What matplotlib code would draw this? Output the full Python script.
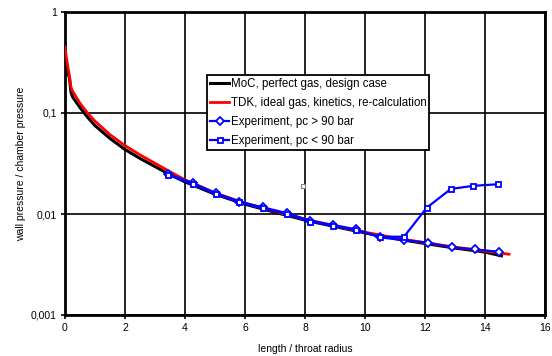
import matplotlib
matplotlib.use("Agg")
import matplotlib.pyplot as plt
from matplotlib.ticker import FixedLocator, FixedFormatter, NullLocator

plt.rcParams['font.family'] = ['Liberation Sans', 'DejaVu Sans']

# Theory curves
moc_x = [0, 0.05, 0.1, 0.15, 0.2, 0.25, 0.5, 0.75, 1, 1.5, 2, 2.5, 3, 3.5, 4, 5, 6, 7, 8, 9, 10, 11, 12, 13, 14, 14.55]
moc_y = [0.37, 0.30, 0.25, 0.22, 0.16, 0.145, 0.113, 0.091, 0.075, 0.056, 0.0435, 0.0355, 0.0295, 0.0245, 0.0208,
         0.0157, 0.0125, 0.0104, 0.0087, 0.0075, 0.0065, 0.0057, 0.0051, 0.0046, 0.0042, 0.00385]
tdk_x = [0, 0.05, 0.1, 0.15, 0.2, 0.25, 0.5, 0.75, 1, 1.5, 2, 2.5, 3, 3.5, 4, 5, 6, 7, 8, 9, 10, 11, 12, 13, 14, 14.8]
tdk_y = [0.45, 0.35, 0.28, 0.23, 0.18, 0.165, 0.125, 0.100, 0.083, 0.061, 0.0475, 0.0385, 0.0318, 0.0262, 0.0218,
         0.0162, 0.0128, 0.0106, 0.0089, 0.0076, 0.0066, 0.0058, 0.0052, 0.0047, 0.0043, 0.0040]

# Experiments
exp_hi_x = [3.43, 4.26, 5.02, 5.81, 6.59, 7.39, 8.17, 8.94, 9.70, 10.5, 11.3, 12.11, 12.89, 13.67, 14.48]
exp_hi_y = [0.0250, 0.0202, 0.0161, 0.01325, 0.01166, 0.0102, 0.00859, 0.00778, 0.00705, 0.00587, 0.00552,
            0.00519, 0.00467, 0.00446, 0.00422]
exp_lo_x = [3.43, 4.26, 5.02, 5.81, 6.59, 7.39, 8.17, 8.94, 9.70, 10.5, 11.3, 12.06, 12.86, 13.61, 14.42]
exp_lo_y = [0.0245, 0.0198, 0.0158, 0.0130, 0.0114, 0.0100, 0.0084, 0.0076, 0.0069, 0.00595, 0.00596,
            0.01155, 0.0177, 0.0190, 0.0197]
stray_x = [7.93]
stray_y = [0.019]

xticks = [0, 2, 4, 6, 8, 10, 12, 14, 16]
yticks = [0.001, 0.01, 0.1, 1]
ytick_labels = ["0,001", "0,01", "0,1", "1"]

fig = plt.figure(figsize=(5.52, 3.56), dpi=100)
ax = fig.add_axes([65/552, 1 - 315/356, (545-65)/552, (315-12)/356])

ax.plot(moc_x, moc_y, color='black', lw=2.2, label='MoC, perfect gas, design case', zorder=3)
ax.plot(tdk_x, tdk_y, color='red', lw=2.0, label='TDK, ideal gas, kinetics, re-calculation', zorder=3)
ax.plot(exp_hi_x, exp_hi_y, color='blue', lw=1.6, marker='D', ms=3.8, mfc='white', mec='blue', mew=1.3,
        label='Experiment, pc > 90 bar', zorder=4)
ax.plot(exp_lo_x, exp_lo_y, color='blue', lw=1.6, marker='s', ms=3.6, mfc='white', mec='blue', mew=1.3,
        label='Experiment, pc < 90 bar', zorder=4)
ax.plot(stray_x, stray_y, ls='none', marker='s', ms=2.5, mfc='white', mec='gray', mew=0.8, zorder=4)

ax.set_yscale('log')
ax.set_xlim(0, 16)
ax.set_ylim(0.001, 1)
ax.xaxis.set_major_locator(FixedLocator(xticks))
ax.yaxis.set_major_locator(FixedLocator(yticks))
ax.yaxis.set_major_formatter(FixedFormatter(ytick_labels))
ax.yaxis.set_minor_locator(NullLocator())
ax.grid(True, which='major', color='black', lw=1.2)
ax.set_axisbelow(True)
for s in ax.spines.values():
    s.set_linewidth(2)
    s.set_color('black')
ax.tick_params(axis='both', which='major', labelsize=7.5, length=3, width=1.2, direction='out', pad=3)

ax.set_xlabel('length / throat radius', fontsize=7.5, labelpad=8)
ax.set_ylabel('wall pressure / chamber pressure', fontsize=7.5, labelpad=3)

leg = ax.legend(loc='upper left', bbox_to_anchor=((207-65)/480, 1 - (75-12)/303), fontsize=8.3,
                frameon=True, fancybox=False, handlelength=1.7, handletextpad=0.1, borderpad=0.25,
                labelspacing=0.62, borderaxespad=0)
leg.get_frame().set_edgecolor('black')
leg.get_frame().set_linewidth(1.3)
leg.get_frame().set_alpha(1)

fig.savefig('out.png', dpi=100)
